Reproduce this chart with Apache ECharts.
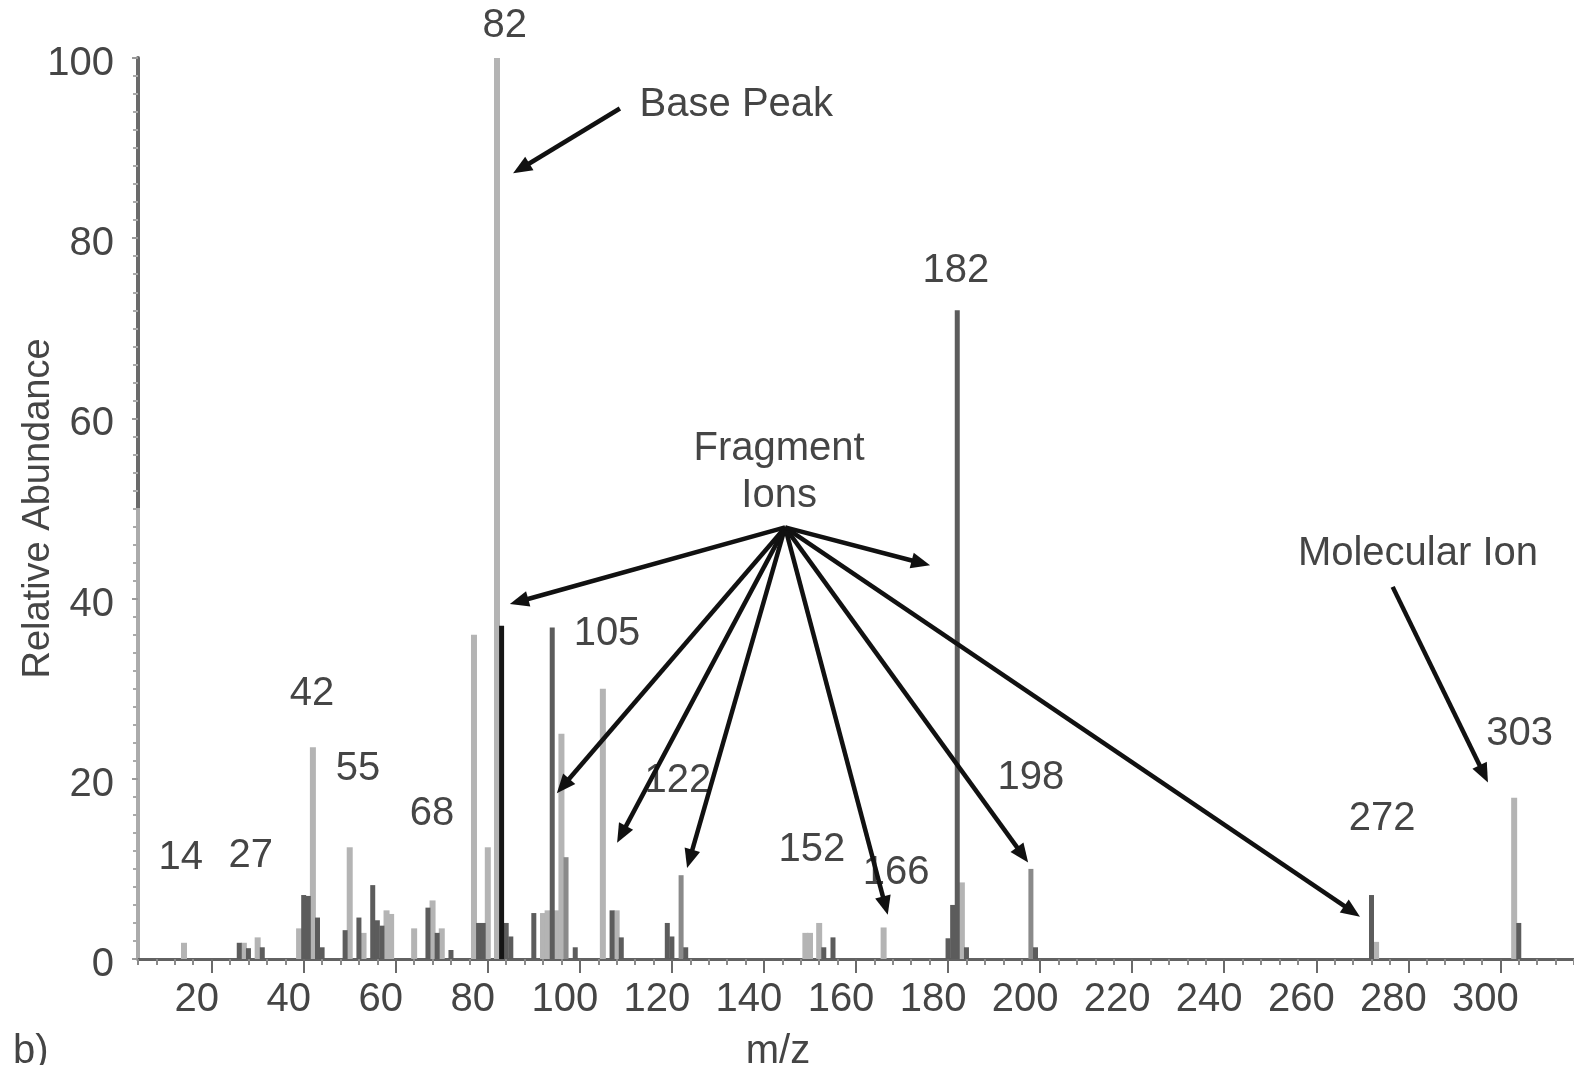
<!DOCTYPE html>
<html>
<head>
<meta charset="utf-8">
<script src="https://cdn.jsdelivr.net/npm/echarts@6/dist/echarts.min.js"></script>
<style>
html,body{margin:0;padding:0;background:#fff;}
#c{width:1574px;height:1065px;}
</style>
</head>
<body>
<div id="c"></div>
<script>
// ---------------- DATA ----------------
const xTickValues = [20, 40, 60, 80, 100, 120, 140, 160, 180, 200, 220, 240, 260, 280, 300];

// light grey peaks
const lightMz    = [14, 27, 30, 39, 42, 50, 53, 58, 59, 64, 68, 70, 77, 80, 82, 92, 93, 95, 96, 105, 108, 149, 150, 152, 166, 183, 273, 303];
const lightAbund = [1.8, 1.8, 2.4, 3.4, 23.5, 12.4, 2.9, 5.4, 5.0, 3.4, 6.5, 3.4, 36, 12.4, 100, 5.1, 5.4, 5.4, 25, 30, 5.4, 2.9, 2.9, 4.0, 3.5, 8.5, 1.9, 17.9];

// medium grey peaks
const midMz    = [97, 122, 198];
const midAbund = [11.3, 9.3, 10.0];

// dark grey peaks
const darkMz    = [26, 28, 31, 40, 41, 43, 44, 49, 52, 55, 56, 57, 67, 69, 72, 78, 79, 84, 85, 90, 94, 99, 107, 109, 119, 120, 123, 153, 155, 180, 181, 182, 184, 199, 272, 304];
const darkAbund = [1.8, 1.2, 1.3, 7.1, 7.0, 4.6, 1.3, 3.2, 4.6, 8.2, 4.3, 3.7, 5.7, 2.9, 1.0, 4.0, 4.0, 4.0, 2.5, 5.1, 36.8, 1.3, 5.4, 2.4, 4.0, 2.5, 1.3, 1.3, 2.4, 2.3, 6.0, 72, 1.3, 1.3, 7.1, 4.0];

// near-black peak
const blackMz    = [83];
const blackAbund = [37];

// ---------------- LAYOUT (annotation placement, in data units) ----------------
const FONT = '"Liberation Sans", Arial, Helvetica, sans-serif';
const TEXT_COLOR = '#454545';
const annotationTexts = [
  { text: '82',  at: [83.7, 103.6] },
  { text: 'Base Peak', at: [134.0, 94.8] },
  { text: '182', at: [181.7, 76.4] },
  { text: 'Fragment\nIons', at: [143.3, 54.0] },
  { text: 'Molecular Ion', at: [282.1, 45.0] },
  { text: '303', at: [304.2, 25.0] },
  { text: '272', at: [274.3, 15.5] },
  { text: '198', at: [198.0, 20.1] },
  { text: '166', at: [168.7, 9.5] },
  { text: '152', at: [150.4, 12.1] },
  { text: '122', at: [121.3, 19.8] },
  { text: '105', at: [105.9, 36.1] },
  { text: '68',  at: [67.9, 16.1] },
  { text: '55',  at: [51.8, 21.1] },
  { text: '42',  at: [41.8, 29.4] },
  { text: '27',  at: [28.5, 11.4] },
  { text: '14',  at: [13.3, 11.2] }
];
const fragOrigin = [144.6, 47.9];
const arrowList = [
  { from: [108.7, 94.4], to: [85.5, 87.2] },
  { from: fragOrigin, to: [84.8, 39.4] },
  { from: fragOrigin, to: [95.0, 18.4] },
  { from: fragOrigin, to: [108.1, 12.9] },
  { from: fragOrigin, to: [123.3, 10.1] },
  { from: fragOrigin, to: [166.9, 4.9] },
  { from: fragOrigin, to: [197.4, 10.7] },
  { from: fragOrigin, to: [269.5, 4.7] },
  { from: fragOrigin, to: [176.1, 43.7] },
  { from: [276.6, 41.3], to: [297.3, 19.6] }
];

// ---------------- CHART ----------------
const chart = echarts.init(document.getElementById('c'), null, { renderer: 'canvas' });

function pairs(mz, ab) { return mz.map((m, i) => [m, ab[i]]); }
function peakSeries(name, mz, ab, color, w) {
  return {
    type: 'custom',
    name: name,
    xAxisIndex: 0,
    yAxisIndex: 0,
    data: pairs(mz, ab),
    z: 3,
    renderItem: function (params, api) {
      const x = api.value(0), y = api.value(1);
      const top = api.coord([x, y]);
      const base = api.coord([x, 0]);
      return {
        type: 'rect',
        shape: { x: top[0] - w / 2, y: top[1], width: w, height: base[1] - top[1] },
        style: { fill: color }
      };
    }
  };
}

const option = {
  backgroundColor: '#ffffff',
  animation: false,
  title: {
    text: 'b)',
    left: 8,
    top: 1027,
    textStyle: { fontFamily: FONT, fontSize: 40, fontWeight: 'normal', color: TEXT_COLOR }
  },
  grid: { left: 138, right: 0, top: 58, bottom: 106, containLabel: false, outerBoundsMode: 'none' },
  xAxis: [
    {
      type: 'value', min: 4, max: 316, interval: 4, position: 'bottom',
      axisLine: { show: true, lineStyle: { color: '#626262', width: 3 } },
      axisTick: { show: true, length: 6, lineStyle: { color: '#8a8a8a', width: 2 } },
      axisLabel: { show: false },
      splitLine: { show: false }
    },
    {
      type: 'value', min: 4, max: 316, position: 'bottom',
      axisLine: { show: false },
      axisTick: { show: true, customValues: xTickValues, length: 14, lineStyle: { color: '#6a6a6a', width: 2 } },
      axisLabel: {
        show: true, customValues: xTickValues, fontFamily: FONT, fontSize: 40, color: TEXT_COLOR,
        margin: 21, padding: [0, 30, 0, 0]
      },
      splitLine: { show: false },
      name: 'm/z', nameLocation: 'middle', nameGap: 73,
      nameTextStyle: { fontFamily: FONT, fontSize: 40, color: TEXT_COLOR, padding: [0, 156, 0, 0] }
    }
  ],
  yAxis: [
    {
      type: 'value', min: 0, max: 100, interval: 20,
      axisLine: { show: true, lineStyle: { color: new echarts.graphic.LinearGradient(0, 0, 0, 1, [
        { offset: 0, color: '#6a6a6a' }, { offset: 0.5, color: '#6a6a6a' },
        { offset: 0.5, color: '#ababab' }, { offset: 1, color: '#ababab' }
      ]), width: 4 } },
      axisTick: { show: true, length: 6, lineStyle: { color: '#9a9a9a', width: 2 } },
      minorTick: { show: true, splitNumber: 10, length: 5, lineStyle: { color: '#aaaaaa', width: 2 } },
      axisLabel: {
        margin: 24,
        formatter: function (v) { return '{a|' + v + '}'; },
        rich: { a: { fontFamily: FONT, fontSize: 40, color: TEXT_COLOR, padding: [12, 0, 0, 0] } }
      },
      splitLine: { show: false },
      name: 'Relative Abundance', nameLocation: 'middle', nameGap: 80, nameMoveOverlap: false,
      nameTextStyle: { fontFamily: FONT, fontSize: 38, color: TEXT_COLOR }
    }
  ],
  series: [
    peakSeries('light', lightMz, lightAbund, '#b4b4b4', 6),
    peakSeries('mid', midMz, midAbund, '#8a8a8a', 5),
    peakSeries('dark', darkMz, darkAbund, '#5c5c5c', 5),
    peakSeries('black', blackMz, blackAbund, '#151515', 5)
  ]
};
chart.setOption(option);

// annotations positioned through the chart's own coordinate system
function P(pt) { return chart.convertToPixel({ xAxisIndex: 0, yAxisIndex: 0 }, pt); }
const graphics = [];
annotationTexts.forEach(a => {
  const p = P(a.at);
  graphics.push({
    type: 'text', x: p[0], y: p[1], z: 10,
    style: { text: a.text, fontFamily: FONT, fontSize: 40, fill: TEXT_COLOR,
             align: 'center', verticalAlign: 'middle', lineHeight: 47 }
  });
});
arrowList.forEach(ar => {
  const a = P(ar.from), b = P(ar.to);
  const dx = b[0] - a[0], dy = b[1] - a[1];
  const len = Math.hypot(dx, dy), ux = dx / len, uy = dy / len;
  const L = 19, W = 8;
  const bx = b[0] - ux * L, by = b[1] - uy * L;
  graphics.push({ type: 'line', z: 11, shape: { x1: a[0], y1: a[1], x2: bx + ux * 3, y2: by + uy * 3 },
                  style: { stroke: '#111111', lineWidth: 4.5 } });
  graphics.push({ type: 'polygon', z: 11, shape: { points: [[b[0], b[1]], [bx - uy * W, by + ux * W], [bx + uy * W, by - ux * W]] },
                  style: { fill: '#111111' } });
});
chart.setOption({ graphic: graphics });
</script>
</body>
</html>
